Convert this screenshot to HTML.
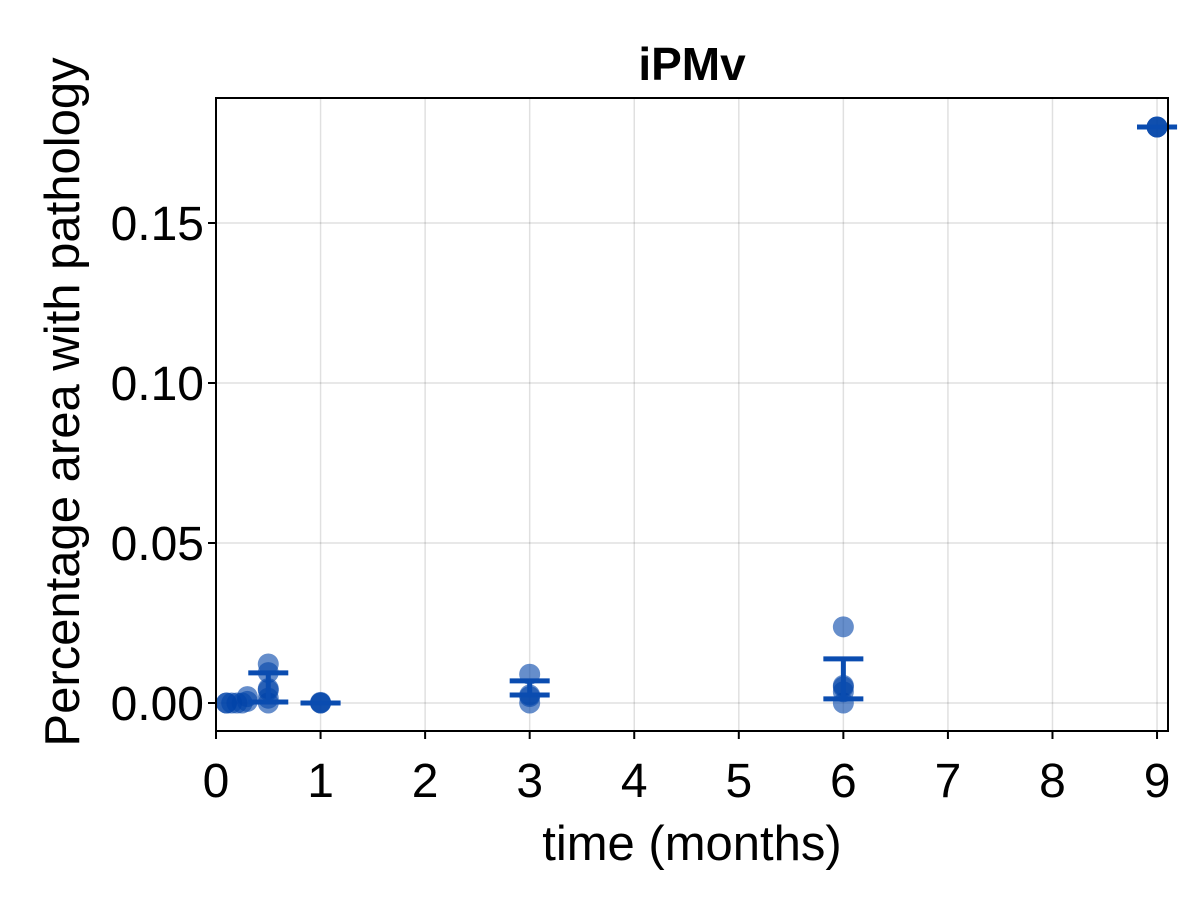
<!DOCTYPE html>
<html><head><meta charset="utf-8"><style>body{margin:0;background:#fff}svg{display:block;font-family:"Liberation Sans",sans-serif}</style></head>
<body>
<svg id="chart" width="1200" height="900"></svg>
<script>
const xTicks=[0,1,2,3,4,5,6,7,8,9];
const yTicks=[0,0.05,0.10,0.15];
const yTickLabels=["0.00","0.05","0.10","0.15"];
const ptX=[0.1,0.1,0.15,0.2,0.25,0.3,0.3,0.5,0.5,0.5,0.5,0.5,0.5,1,1,1,3,3,3,3,6,6,6,6,6,9,9,9];
const ptY=[0,0,0,0,0,0.0005,0.002,0.0122,0.0095,0.0045,0.004,0.0015,0,0,0.0002,0,0.009,0.0025,0.002,0,0.0238,0.0055,0.005,0.0035,0,0.18,0.18,0.18];
const ebX=[0.5,1,3,6,9];
const ebLo=[0.0003,0,0.0025,0.0013,0.18];
const ebHi=[0.0094,0,0.0069,0.0138,0.18];
const L=216,R=1168,T=98,B=731;
const sx=v=>216+v*104.56;
const sy=v=>703-v*3200;
const svg=document.getElementById('chart');
const NS='http://www.w3.org/2000/svg';
function mk(tag,at,txt){const e=document.createElementNS(NS,tag);for(const k in at)e.setAttribute(k,at[k]);if(txt!==undefined)e.textContent=txt;svg.appendChild(e);return e;}
xTicks.forEach(t=>{
 const g=mk('line',{x1:sx(t),x2:sx(t),y1:T,y2:B,stroke:'#000','stroke-opacity':0.12,'stroke-width':1.5});
 
 
 const tk=mk('line',{x1:sx(t),x2:sx(t),y1:B,y2:B+8,stroke:'#000','stroke-width':2});
 
 
 const lb=mk('text',{x:sx(t),y:797,'font-size':48,'text-anchor':'middle'},String(t));
 
 
});
yTicks.forEach((t,i)=>{
 const g=mk('line',{x1:L,x2:R,y1:sy(t),y2:sy(t),stroke:'#000','stroke-opacity':0.12,'stroke-width':1.5});
 
 
 const tk=mk('line',{x1:L-8,x2:L,y1:sy(t),y2:sy(t),stroke:'#000','stroke-width':2});
 
 
 const lb=mk('text',{x:L-12,y:sy(t)+17,'font-size':48,'text-anchor':'end'},yTickLabels[i]);
 
 
});
ptX.forEach((x,i)=>{
 const c=mk('circle',{cx:sx(x),cy:sy(ptY[i]),r:10.5,fill:'#0042a8','fill-opacity':0.6});
 
 
});
ebX.forEach((x,i)=>{
 const g=document.createElementNS(NS,'g');svg.appendChild(g);
 
 
 const c=sx(x),lo=sy(ebLo[i]),hi=sy(ebHi[i]);
 [[c,c,lo,hi],[c-20,c+20,lo,lo],[c-20,c+20,hi,hi]].forEach(a=>{
  const l=document.createElementNS(NS,'line');
  l.setAttribute('x1',a[0]);l.setAttribute('x2',a[1]);l.setAttribute('y1',a[2]);l.setAttribute('y2',a[3]);
  l.setAttribute('stroke','#0a4cb0');l.setAttribute('stroke-width',5);g.appendChild(l);
 });
});
const fr=mk('rect',{x:L,y:T,width:R-L,height:B-T,fill:'none',stroke:'#000','stroke-width':2});


const ti=mk('text',{x:692,y:80,'font-size':46,'font-weight':'bold','text-anchor':'middle'},'iPMv');


const xl=mk('text',{x:692,y:860,'font-size':49,'text-anchor':'middle'},'time (months)');


const yl=mk('text',{x:0,y:0,'font-size':49,'text-anchor':'middle',transform:'translate(79,402) rotate(-90)'},'Percentage area with pathology');


</script>
</body></html>
